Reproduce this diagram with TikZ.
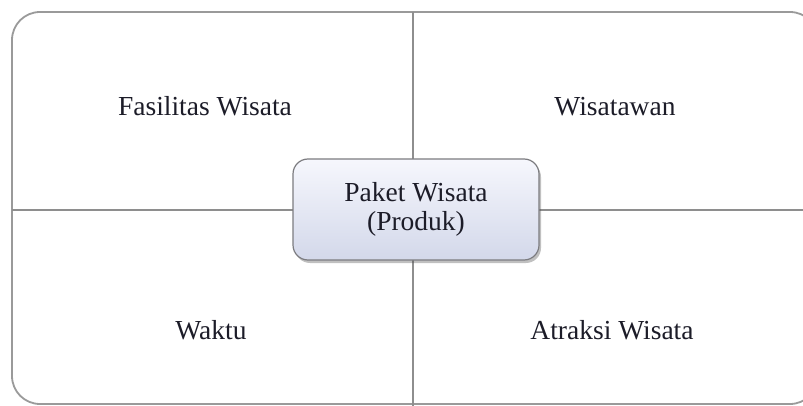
\documentclass[tikz,border=0pt]{standalone}
\usepackage{fontspec}
\setmainfont{Liberation Serif}
\usetikzlibrary{shadows}
\definecolor{framegray}{HTML}{9A9A9A}
\definecolor{linegray}{HTML}{8E8E8E}
\definecolor{txt}{HTML}{1C1C28}
\definecolor{boxtop}{HTML}{F6F7FD}
\definecolor{boxbot}{HTML}{D3D8EA}
\definecolor{boxedge}{HTML}{7C7C80}
\tikzset{
  label text/.style={font=\fontsize{27.5}{30}\selectfont, text=txt, anchor=base},
  frame/.style={draw=framegray, line width=1.8pt, rounded corners=28pt},
  divider/.style={draw=linegray, line width=1.8pt},
  centerbox/.style={draw=boxedge, line width=1.2pt, rounded corners=15pt,
    top color=boxtop, bottom color=boxbot,
    minimum width=246pt, minimum height=101pt, align=center,
    font=\fontsize{27.5}{29}\selectfont, text=txt,
    drop shadow={shadow xshift=2pt, shadow yshift=-3pt, opacity=0.35, fill=black!70}}
}
\begin{document}
\begin{tikzpicture}[x=1pt,y=-1pt]
\useasboundingbox (0,0) rectangle (803,406);
\fill[white] (0,0) rectangle (803,406);
\begin{scope}
\clip (0,0) rectangle (803,406);
\draw[frame] (12,12) rectangle (818,404);
\coordinate (vtop) at (413,12);
\coordinate (vbot) at (413,410);
\coordinate (hleft) at (12,210);
\coordinate (hright) at (810,210);
\draw[divider] (vtop) -- (vbot);
\draw[divider] (hleft) -- (hright);
\end{scope}
\node[centerbox] (paket) at (416,209.5) {Paket Wisata\\(Produk)};
\node[label text] (fasilitas) at (205,116) {Fasilitas Wisata};
\node[label text] (wisatawan) at (615,116) {Wisatawan};
\node[label text] (waktu) at (211,339) {Waktu};
\node[label text] (atraksi) at (612,339) {Atraksi Wisata};
\end{tikzpicture}
\end{document}
